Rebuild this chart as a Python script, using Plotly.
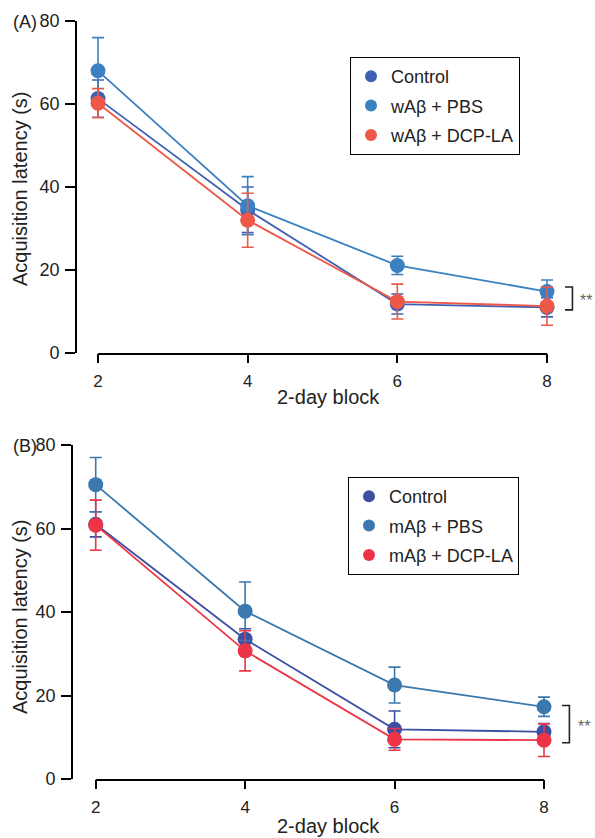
import plotly.graph_objects as go

# ---------------- data ----------------
blocks = [2, 4, 6, 8]
x_ticks = [2, 4, 6, 8]
y_ticks = [0, 20, 40, 60, 80]

a_names = ["Control", "wAβ + PBS", "wAβ + DCP-LA"]
a_control = [61.3, 34.5, 11.8, 11.0]
a_control_err = [4.5, 5.5, 2.4, 2.3]
a_pbs = [68.0, 35.5, 21.1, 14.8]
a_pbs_err = [8.0, 7.0, 2.2, 2.8]
a_dcp = [60.2, 32.0, 12.4, 11.3]
a_dcp_err = [3.5, 6.5, 4.2, 4.6]

b_names = ["Control", "mAβ + PBS", "mAβ + DCP-LA"]
b_control = [61.0, 33.5, 11.9, 11.3]
b_control_err = [3.0, 2.5, 4.4, 2.0]
b_pbs = [70.5, 40.2, 22.5, 17.3]
b_pbs_err = [6.5, 7.0, 4.3, 2.3]
b_dcp = [60.8, 30.7, 9.5, 9.3]
b_dcp_err = [6.0, 4.8, 2.6, 3.9]

a_colors = ["#3f60b2", "#3b80c0", "#ee5848"]
b_colors = ["#3c4fa3", "#3a78ae", "#ec3446"]

# ---------------- layout helpers ----------------
OFF = 0  # page body margin removed via post_script
W, H = 595 - OFF, 838 - OFF
FONT = "Liberation Sans, Arial, Helvetica, sans-serif"


def px_x(p):
    return (p - OFF) / W


def px_y(p):
    return 1 - (p - OFF) / H


fig = go.Figure()


def add_panel(xa, ya, legend_id, names, series, errs, colors):
    for name, ys, es, c in zip(names, series, errs, colors):
        fig.add_trace(go.Scatter(
            x=blocks, y=ys, mode="lines+markers", name=name,
            xaxis=xa, yaxis=ya, showlegend=False,
            line=dict(color=c, width=1.8),
            marker=dict(color=c, size=15),
            error_y=dict(type="data", array=es, visible=True,
                         color=c, thickness=1.6, width=6),
        ))
    for name, c in zip(names, colors):
        fig.add_trace(go.Scatter(
            x=[None], y=[None], mode="markers", name=name,
            xaxis=xa, yaxis=ya, legend=legend_id, legendgroup=name + legend_id,
            marker=dict(color=c, size=12),
        ))


add_panel("x", "y", "legend", a_names, [a_control, a_pbs, a_dcp],
          [a_control_err, a_pbs_err, a_dcp_err], a_colors)
add_panel("x2", "y2", "legend2", b_names, [b_control, b_pbs, b_dcp],
          [b_control_err, b_pbs_err, b_dcp_err], b_colors)

# panel geometry (screen pixels of the reference)
A = dict(yaxis_x=77, x2px=98, x8px=547, y0=353, y80=21)
B = dict(yaxis_x=73, x2px=95.7, x8px=544, y0=779, y80=445)
XMAX = 8.5


def xaxis_cfg(P, anchor):
    per = (P["x8px"] - P["x2px"]) / 6.0
    xmin = 2 - (P["x2px"] - P["yaxis_x"]) / per
    right = P["x8px"] + (XMAX - 8) * per
    return dict(range=[xmin, XMAX], domain=[px_x(P["yaxis_x"]), px_x(right)],
                anchor=anchor, tickvals=x_ticks, ticks="outside", ticklen=9,
                tickwidth=1.8, tickcolor="black", showline=False, showgrid=False,
                zeroline=False, tickfont=dict(family=FONT, size=17, color="#222"),
                ticklabelstandoff=4, automargin=False)


def yaxis_cfg(P, anchor):
    return dict(range=[0, 80], domain=[px_y(P["y0"]), px_y(P["y80"])],
                anchor=anchor, tickvals=y_ticks, ticks="outside", ticklen=10,
                tickwidth=1.8, tickcolor="black", showline=True, linecolor="black",
                linewidth=1.8, showgrid=False, zeroline=False,
                tickfont=dict(family=FONT, size=18, color="#222"),
                ticklabelstandoff=2, automargin=False)


legend_common = dict(bordercolor="black", borderwidth=1, bgcolor="white",
                     font=dict(family=FONT, size=18, color="#222"),
                     xanchor="left", yanchor="top", tracegroupgap=3,
                     itemclick=False)

fig.update_layout(
    width=W, height=H, margin=dict(l=0, r=0, t=0, b=0, autoexpand=False),
    paper_bgcolor="white", plot_bgcolor="white",
    xaxis=xaxis_cfg(A, "y"), yaxis=yaxis_cfg(A, "x"),
    xaxis2=xaxis_cfg(B, "y2"), yaxis2=yaxis_cfg(B, "x2"),
    legend=dict(x=px_x(350), y=px_y(57), **legend_common),
    legend2=dict(x=px_x(348), y=px_y(477), **legend_common),
)

# offset x-axis lines spanning the tick range only
for xr, P in (("x", A), ("x2", B)):
    fig.add_shape(type="line", xref=xr, yref="paper", x0=x_ticks[0], x1=x_ticks[-1],
                  y0=px_y(P["y0"] + 1), y1=px_y(P["y0"] + 1),
                  line=dict(color="black", width=1.8))


# significance brackets
def bracket(xr, yr, top, bottom):
    fig.add_shape(type="path", xref=xr, yref=yr,
                  path=f"M 8.24 {top} L 8.34 {top} L 8.34 {bottom} L 8.24 {bottom}",
                  line=dict(color="#222", width=1.6))


bracket("x", "y", a_pbs[-1] + 1.1, min(a_control[-1], a_dcp[-1]) - 0.6)
bracket("x2", "y2", b_pbs[-1] + 0.3, min(b_control[-1], b_dcp[-1]) - 0.6)


def note(text, x, y, size, color="#222", angle=0, xanchor="center"):
    fig.add_annotation(text=text, xref="paper", yref="paper", x=px_x(x), y=px_y(y),
                       xanchor=xanchor, yanchor="middle", textangle=angle,
                       showarrow=False, font=dict(family=FONT, size=size, color=color))


note("**", 578, 300, 16, "#666", xanchor="left")
note("**", 576, 726, 16, "#666", xanchor="left")

# panel letters
note("(A)", 11, 22, 18, xanchor="left")
note("(B)", 11, 446, 18, xanchor="left")

# axis titles
for yc in (189, 617):
    note("Acquisition latency (s)", 20, yc, 20, angle=-90)
for yc in (397, 826):
    note("2-day block", 328, yc, 20)

fig.write_html(
    "out.html",
    config={"displayModeBar": False},
    post_script="document.body.style.margin='0';document.body.style.overflow='hidden';",
)
